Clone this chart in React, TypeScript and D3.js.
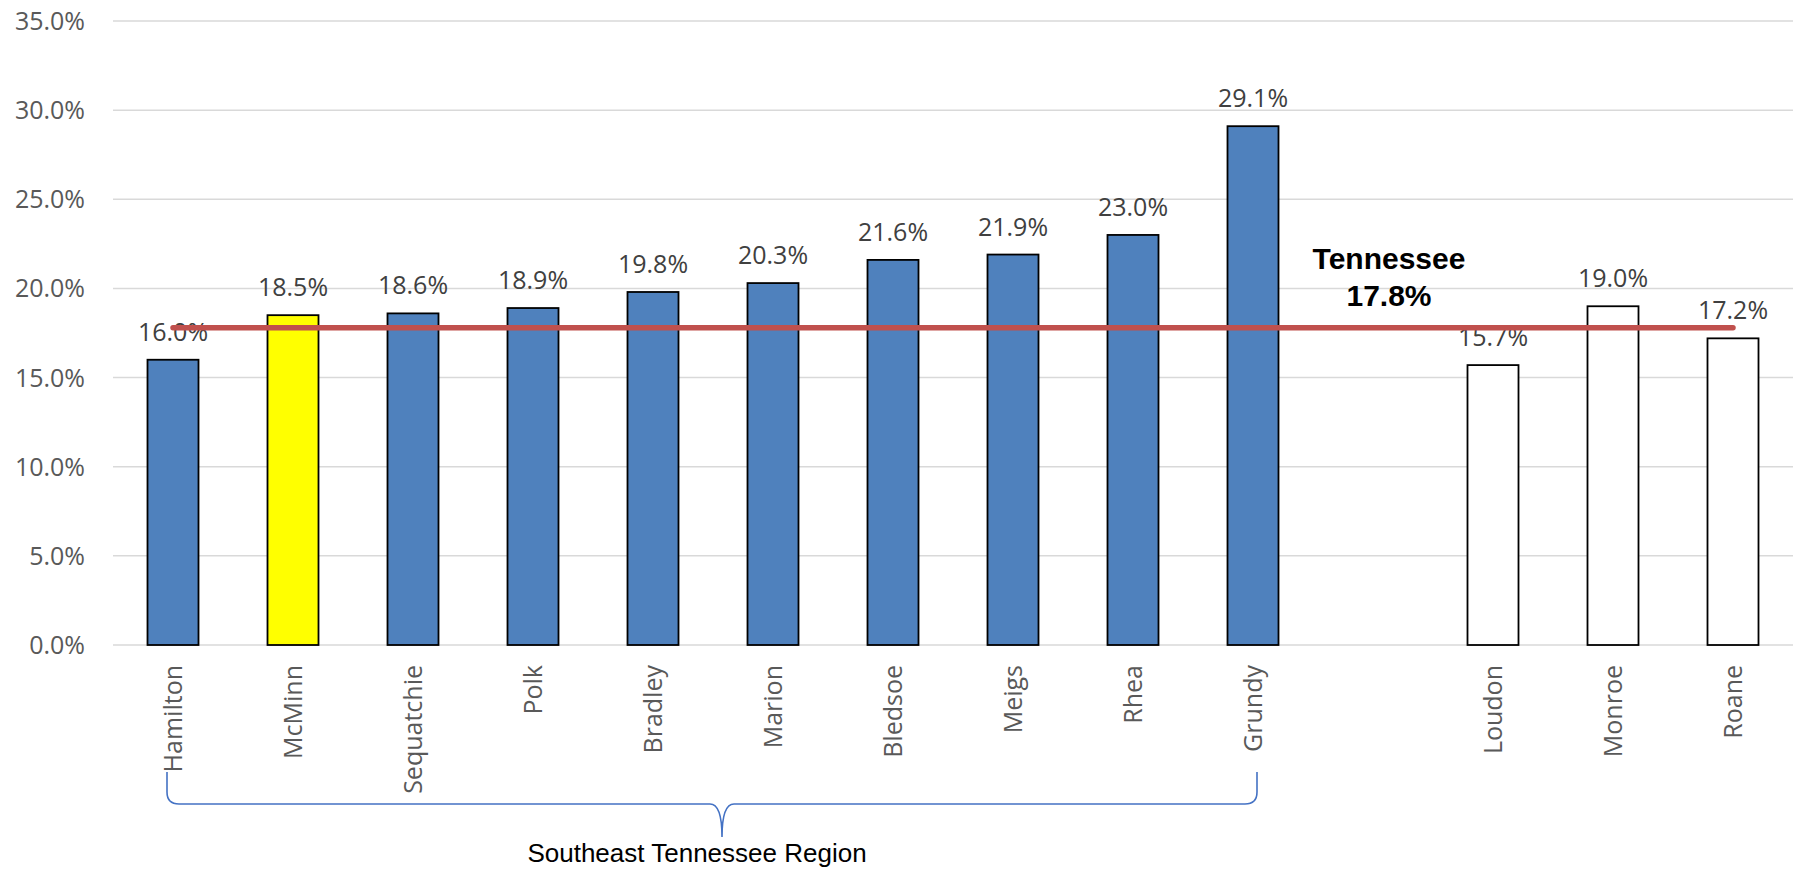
import React from 'react';
import * as d3 from 'd3';

// counties in the Southeast Tennessee region, then the neighbouring ones
const regionCounties = ['Hamilton', 'McMinn', 'Sequatchie', 'Polk', 'Bradley', 'Marion', 'Bledsoe', 'Meigs', 'Rhea', 'Grundy'];
const regionValues = [16.0, 18.5, 18.6, 18.9, 19.8, 20.3, 21.6, 21.9, 23.0, 29.1];
const neighborCounties = ['Loudon', 'Monroe', 'Roane'];
const neighborValues = [15.7, 19.0, 17.2];
const highlightCounty = 'McMinn';
const stateName = 'Tennessee';
const stateValue = 17.8;
const regionLabel = 'Southeast Tennessee Region';
const yTicks = [0, 5, 10, 15, 20, 25, 30, 35];

const GAP = '__gap__';

const App: React.FC = () => {
    const width = 1793;
    const height = 870;
    const margin = { top: 21, right: 0, bottom: 225, left: 113 };

    const categories = [...regionCounties, GAP, ...neighborCounties];
    const bars = [
        ...regionCounties.map((name, i) => ({ name, value: regionValues[i], group: 'region' })),
        ...neighborCounties.map((name, i) => ({ name, value: neighborValues[i], group: 'neighbor' })),
    ];

    const x = d3.scaleBand<string>()
        .domain(categories)
        .range([margin.left, width - margin.right])
        .paddingInner(0.575)
        .paddingOuter(0.2875);

    const y = d3.scaleLinear()
        .domain([0, 35])
        .range([height - margin.bottom, margin.top]);

    const center = (name: string) => (x(name) as number) + x.bandwidth() / 2;
    const fmt = (v: number) => `${v.toFixed(1)}%`;

    const fillFor = (d: { name: string; group: string }) => {
        if (d.name === highlightCounty) return '#FFFF00';
        return d.group === 'region' ? '#4F81BD' : '#FFFFFF';
    };

    // state average line across every category center
    const lineData = categories.map(c => ({ c, v: stateValue }));
    const line = d3.line<{ c: string; v: number }>()
        .x(d => center(d.c))
        .y(d => y(d.v));

    // brace under the region counties
    const braceLeft = center(regionCounties[0]) - 6;
    const braceRight = center(regionCounties[regionCounties.length - 1]) + 4;
    const braceTop = 772;
    const braceMid = 804;
    const braceTip = 837;
    const tipX = (braceLeft + braceRight) / 2 + 10;
    const r = 12;
    const bracePath = [
        `M${braceLeft},${braceTop}`,
        `L${braceLeft},${braceMid - r}`,
        `Q${braceLeft},${braceMid} ${braceLeft + r},${braceMid}`,
        `L${tipX - r},${braceMid}`,
        `Q${tipX},${braceMid} ${tipX},${braceTip}`,
        `Q${tipX},${braceMid} ${tipX + r},${braceMid}`,
        `L${braceRight - r},${braceMid}`,
        `Q${braceRight},${braceMid} ${braceRight},${braceMid - r}`,
        `L${braceRight},${braceTop}`,
    ].join(' ');

    const gapX = center(GAP) + 16;

    return (
        <div style={{ position: 'absolute', left: 0, top: 0 }}>
            <svg width={width} height={height} style={{ display: 'block', background: '#fff' }}>
                {/* gridlines */}
                {yTicks.map(t => (
                    <line key={`g${t}`} x1={margin.left} x2={width - margin.right} y1={y(t)} y2={y(t)}
                        stroke="#D9D9D9" strokeWidth={1.5} />
                ))}
                {/* y labels */}
                {yTicks.map(t => (
                    <text key={`yl${t}`} x={85} y={y(t)} dy="0.36em" textAnchor="end"
                        fontFamily="'Open Sans', sans-serif" fontSize={25} fill="#595959">{fmt(t)}</text>
                ))}
                {/* bars */}
                {bars.map(d => (
                    <rect key={d.name} x={x(d.name)} y={y(d.value)} width={x.bandwidth()}
                        height={y(0) - y(d.value)} fill={fillFor(d)} stroke="#000" strokeWidth={1.8} />
                ))}
                {/* data labels */}
                {bars.map(d => (
                    <text key={`l${d.name}`} x={center(d.name)} y={y(d.value) - 19} textAnchor="middle"
                        fontFamily="'Open Sans', sans-serif" fontSize={25} fill="#404040">{fmt(d.value)}</text>
                ))}
                {/* state line */}
                <path d={line(lineData) as string} fill="none" stroke="#C0504D" strokeWidth={5.5}
                    strokeLinecap="round" />
                {/* category labels */}
                {bars.map(d => (
                    <text key={`c${d.name}`} transform={`translate(${center(d.name)},${y(0) + 20}) rotate(-90)`}
                        dy="0.36em" textAnchor="end" fontFamily="'Open Sans', sans-serif" fontSize={25}
                        fill="#595959">{d.name}</text>
                ))}
                {/* state annotation */}
                <text x={gapX} y={269} textAnchor="middle" fontFamily="'Liberation Sans', Arial, sans-serif"
                    fontWeight="bold" fontSize={30} fill="#000">{stateName}</text>
                <text x={gapX} y={306} textAnchor="middle" fontFamily="'Liberation Sans', Arial, sans-serif"
                    fontWeight="bold" fontSize={30} fill="#000">{fmt(stateValue)}</text>
                {/* region brace */}
                <path d={bracePath} fill="none" stroke="#4472C4" strokeWidth={1.6} />
                <text x={tipX - 25} y={862} textAnchor="middle" fontFamily="'Liberation Sans', Arial, sans-serif"
                    fontSize={26} fill="#000">{regionLabel}</text>
            </svg>
        </div>
    );
};

export default App;
